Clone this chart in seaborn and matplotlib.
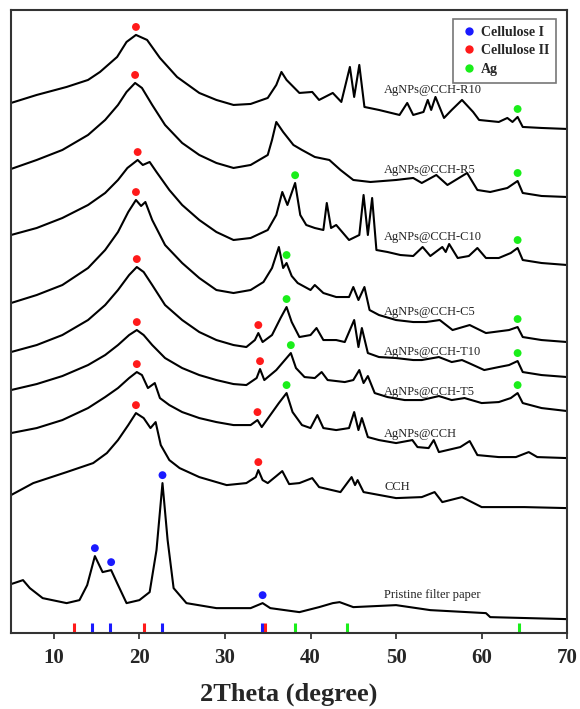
import numpy as np
import pandas as pd
import matplotlib
matplotlib.use("Agg")
import matplotlib.pyplot as plt
import seaborn as sns
from matplotlib.lines import Line2D

# ---------------- data ----------------
samples = ["AgNPs@CCH-R10", "AgNPs@CCH-R5", "AgNPs@CCH-C10", "AgNPs@CCH-C5",
           "AgNPs@CCH-T10", "AgNPs@CCH-T5", "AgNPs@CCH", "CCH", "Pristine filter paper"]

theta_R10 = [5, 8, 11.5, 14, 15.4, 17.4, 18.5, 19.6, 20.9, 22.4, 24.4, 27, 29, 31, 33, 35, 36.0, 36.6, 37.2,
             38.7, 40.2, 41, 42.6, 43.6, 44.6, 45.1, 45.7, 46.3, 48, 50.4, 51.3, 52, 53.2, 53.7, 54.1, 54.6,
             55.6, 56.5, 57.7, 59, 59.7, 62, 63, 63.6, 64.2, 64.8, 67, 70]
int_R10 = [26, 34, 42, 49, 57, 72, 87, 94, 89, 71, 52, 36, 29, 24, 25, 31, 44, 57, 49,
           36, 37, 29, 36, 27, 62, 32, 64, 22, 19, 14, 26, 14, 17, 29, 19, 32,
           11, 19, 29, 17, 9, 7, 11, 7, 12, 2, 1, 0]

theta_R5 = [5, 8, 11, 14, 16, 17.5, 18.5, 19.5, 20.3, 21.5, 23, 25, 27, 29, 31, 33, 35, 35.5, 36, 36.8, 38,
            39, 40.5, 42.2, 43.5, 45, 47, 50, 52, 53, 54.7, 56, 58.3, 59.5, 61, 63, 64.2, 64.8, 67, 70]
int_R5 = [28, 37, 47, 62, 77, 92, 105, 114, 109, 92, 72, 54, 42, 34, 29, 32, 42, 57, 75, 65, 52,
          47, 40, 37, 27, 17, 15, 17, 19, 14, 22, 12, 24, 7, 5, 9, 16, 4, 1, 0]

theta_C10 = [5, 8, 11, 14, 16, 17.5, 18.6, 19.8, 20.4, 21.2, 22, 23.5, 25, 27, 29, 31, 33, 35, 36, 36.7, 37.3,
             38.2, 38.8, 39.5, 40.5, 41.5, 41.9, 42.4, 43, 44.5, 45.7, 46.2, 46.7, 47.2, 47.7, 49, 50.5, 52,
             53.1, 54, 55.4, 55.8, 56.2, 57.2, 58.5, 59.5, 60.5, 62, 63.4, 64.2, 64.8, 67, 70]
int_C10 = [30, 37, 47, 60, 72, 85, 97, 105, 100, 103, 93, 75, 60, 45, 33, 25, 27, 35, 50, 73, 60,
           82, 50, 40, 37, 35, 62, 37, 40, 25, 30, 70, 30, 67, 15, 13, 10, 9,
           18, 9, 18, 13, 21, 7, 9, 17, 7, 7, 12, 17, 5, 2, 0]

theta_C5 = [5, 8, 11, 14, 16, 17.5, 18.7, 19.6, 20.2, 20.7, 21.5, 23, 25, 27, 29, 31, 33, 34.5, 35.5, 36.3,
            36.8, 37.2, 37.8, 38.5, 40.0, 40.5, 41.5, 43, 44.5, 45.0, 45.6, 46.3, 46.9, 48, 50, 52, 53.5,
            55.1, 56.6, 58.6, 60.5, 63.2, 64.2, 64.8, 67, 70]
int_C5 = [39, 47, 57, 74, 92, 110, 130, 142, 136, 140, 122, 97, 79, 64, 52, 49, 52, 60, 74, 95,
          74, 79, 66, 59, 52, 57, 49, 45, 45, 55, 42, 55, 32, 27, 22, 20, 20,
          22, 12, 17, 9, 12, 15, 5, 2, 0]

theta_T10 = [5, 8, 11, 14, 16, 17.5, 18.8, 19.7, 20.5, 21.5, 23, 25, 27, 29, 31, 32.5, 33.5, 33.9, 34.4, 35.5,
             36.5, 37.2, 37.8, 38.7, 40, 40.7, 41.5, 43, 44, 45.1, 45.6, 46.0, 46.7, 48, 50, 52, 53, 55,
             56.5, 57.7, 58.5, 60.3, 62, 63.2, 64.2, 64.8, 67, 70]
int_T10 = [25, 32, 42, 57, 72, 87, 102, 110, 105, 92, 72, 57, 45, 37, 32, 30, 37, 44, 35, 42,
           59, 70, 55, 40, 42, 49, 37, 37, 35, 57, 30, 49, 24, 20, 19, 17, 17, 20,
           15, 17, 14, 7, 10, 12, 16, 5, 2, 0]

theta_T5 = [5, 8, 11, 14, 16, 17.5, 18.8, 19.7, 20.5, 21.5, 23, 25, 27, 29, 31, 32.5, 33.7, 34.1, 34.6, 36,
            37.0, 37.7, 38.3, 39.3, 40.5, 41.3, 42, 44, 45.0, 45.7, 46.2, 46.7, 47.5, 49, 51, 53, 55,
            56.5, 58, 60, 62, 63.4, 64.2, 64.8, 67, 70]
int_T5 = [21, 27, 35, 46, 56, 66, 76, 81, 76, 66, 53, 43, 36, 31, 27, 26, 33, 42, 31, 41,
          51, 58, 43, 34, 33, 39, 31, 29, 31, 41, 28, 35, 18, 14, 11, 11, 15,
          11, 13, 8, 9, 13, 18, 8, 3, 0]

theta_Ag = [5, 8, 11, 14, 16, 17.5, 18.8, 19.7, 20.3, 21.0, 21.8, 22.4, 23.5, 25, 27, 29, 31, 33, 33.8, 34.3,
            35.3, 36.3, 37.2, 37.9, 39, 40, 40.8, 41.5, 43, 44.5, 45.1, 45.6, 46.0, 46.7, 48, 50, 51.9,
            52.5, 53.8, 54.4, 55, 57.5, 58.6, 59.5, 62, 64, 65.5, 66.5, 70]
int_Ag = [25, 30, 38, 50, 61, 70, 80, 86, 83, 70, 75, 60, 53, 46, 40, 36, 33, 33, 38, 31,
          43, 55, 65, 46, 33, 30, 43, 30, 28, 30, 46, 28, 40, 21, 18, 15, 18,
          11, 10, 18, 6, 11, 17, 3, 1, 1, 6, 1, 0]

theta_CCH = [5, 7.6, 11.5, 14.6, 16.2, 17.5, 18.7, 19.6, 20.5, 21.3, 21.9, 22.5, 23.5, 24.7, 27, 30.2, 32.5,
             33.6, 33.9, 34.4, 35.0, 36.0, 36.7, 37.5, 38.7, 40.2, 41, 43.5, 44.8, 45.2, 45.5, 46.2, 50, 53,
             54.5, 55.4, 57.7, 60, 65, 70]
int_CCH = [13, 25, 36, 45, 55, 68, 83, 95, 90, 80, 86, 63, 48, 40, 31, 23, 25,
           31, 38, 28, 25, 32, 37, 24, 25, 30, 21, 16, 31, 23, 28, 16, 10, 11,
           16, 6, 11, 1, 1, 0]

theta_PFP = [5, 6.4, 7.2, 8.7, 11.5, 13, 13.9, 14.8, 15.7, 16.7, 17.4, 18.5, 20, 21.2, 22.0, 22.7, 23.3, 24,
             25.5, 29, 33, 34.4, 35.3, 38.7, 41, 42.6, 43.4, 45, 50, 54, 60.5, 61, 70]
int_PFP = [35, 39, 31, 21, 16, 19, 34, 63, 47, 49, 36, 16, 19, 27, 69, 136, 79, 31,
           16, 11, 11, 16, 11, 7, 12, 16, 17, 12, 14, 9, 6, 2, 0]

curve_theta = [theta_R10, theta_R5, theta_C10, theta_C5, theta_T10, theta_T5, theta_Ag, theta_CCH, theta_PFP]
curve_int = [int_R10, int_R5, int_C10, int_C5, int_T10, int_T5, int_Ag, int_CCH, int_PFP]

# vertical stacking offsets of the curves (a.u.)
offsets = [504, 436, 368, 291, 256, 222, 175, 125, 14]
# height of each curve label above its stacking baseline
label_rise = [39, 27, 28, 30, 25, 19, 24, 21, 24]
label_theta = 48.6

# peak assignments drawn as dots on each curve
peaks_cell1 = [[], [], [], [], [], [], [], [], [14.8, 16.7, 22.7, 34.4]]
peaks_cell2 = [[19.6], [19.5], [19.8], [19.6], [19.7, 33.9], [19.7, 34.1], [19.7, 33.8], [19.6, 33.9], []]
peaks_ag = [[64.2], [64.2], [38.2, 64.2], [37.2, 64.2], [37.2, 64.2], [37.7, 64.2], [37.2], [], []]

# reference (standard) peak positions shown as ticks along the bottom
ref_cell1 = [14.5, 16.6, 22.7, 34.35]
ref_cell2 = [12.4, 20.5, 34.65]
ref_ag = [38.2, 44.3, 64.4]

legend_labels = ["Cellulose I", "Cellulose II", "Ag"]
colors = {"Cellulose I": "#1a1aff", "Cellulose II": "#ff1a1a", "Ag": "#1aee1a"}

# ---------------- build tables ----------------
rows = []
for name, th, it, off in zip(samples, curve_theta, curve_int, offsets):
    for t, v in zip(th, it):
        rows.append({"sample": name, "theta": t, "intensity": v + off})
df = pd.DataFrame(rows)

GAP = 8
mrows = []
for i, name in enumerate(samples):
    th = np.array(curve_theta[i], float)
    it = np.array(curve_int[i], float) + offsets[i]
    fine = np.linspace(th.min(), th.max(), 4000)
    fv = np.interp(fine, th, it)
    for phase, plist in zip(legend_labels, [peaks_cell1[i], peaks_cell2[i], peaks_ag[i]]):
        for p in plist:
            m = np.abs(fine - p) <= 0.25
            mrows.append({"theta": p, "y": fv[m].max() + GAP, "phase": phase})
mdf = pd.DataFrame(mrows)

# ---------------- plot ----------------
sns.set_theme(style="white")
plt.rcParams["font.family"] = ["Liberation Serif", "DejaVu Serif"]

fig = plt.figure(figsize=(5.8, 7.09), dpi=100)
ax = fig.add_axes([0.019, 0.107, 0.959, 0.879])

sns.lineplot(data=df, x="theta", y="intensity", units="sample", estimator=None,
             color="black", linewidth=1.5, ax=ax, legend=False)
sns.scatterplot(data=mdf, x="theta", y="y", hue="phase", palette=colors,
                s=32, edgecolor="none", ax=ax, legend=False, zorder=5)

for name, off, rise in zip(samples, offsets, label_rise):
    ax.text(label_theta, off + rise, name, fontsize=9, color="#222222",
            ha="left", va="center")

for plist, phase in zip([ref_cell1, ref_cell2, ref_ag], legend_labels):
    ax.vlines(plist, 1, 10, colors=colors[phase], linewidth=2.2)

handles = [Line2D([], [], marker="o", linestyle="none", markersize=6,
                  markerfacecolor=colors[l], markeredgecolor="none") for l in legend_labels]
leg = ax.legend(handles, legend_labels, loc="upper right", bbox_to_anchor=(0.993, 0.997),
                frameon=True, fancybox=False, prop={"weight": "bold", "size": 10},
                handletextpad=0.2, borderpad=0.5, labelspacing=0.4, handlelength=1.3)
leg.get_frame().set_edgecolor("#555555")
leg.get_frame().set_linewidth(1.2)

ax.set_xlim(5, 70)
ax.set_ylim(0, 623)
ax.set_xticks([10, 20, 30, 40, 50, 60, 70])
ax.set_yticks([])
ax.tick_params(axis="x", direction="out", length=4, width=1.2, pad=7, labelsize=15, bottom=True)
for lab in ax.get_xticklabels():
    lab.set_fontweight("bold")
ax.set_xlabel("2Theta (degree)", fontsize=19, fontweight="bold", labelpad=10)
ax.set_ylabel("")
for sp in ax.spines.values():
    sp.set_color("#333333")
    sp.set_linewidth(1.5)

fig.savefig("out.png", dpi=100)
